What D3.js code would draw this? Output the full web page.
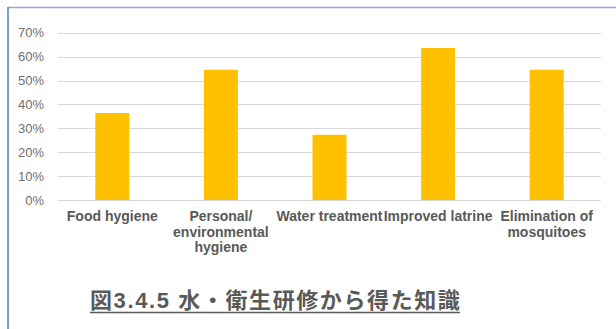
<!DOCTYPE html>
<html lang="ja">
<head>
    <meta charset="UTF-8">
    <title>水・衛生研修から得た知識</title>
    <script src="https://d3js.org/d3.v7.min.js"></script>
    <style>
        body { margin: 0; background: #fff; }
        svg { display: block; }
        .tick-label { font-family: "Liberation Sans", Arial, sans-serif; font-size: 13px; fill: #6f6f6f; }
        .cat-label { font-family: "Liberation Sans", Arial, sans-serif; font-size: 14px; font-weight: bold; fill: #595959; }
        .title { font-family: "Liberation Sans", "Noto Sans CJK JP", sans-serif; font-size: 22px; font-weight: bold; fill: #595959; letter-spacing: 1.6px; }
    </style>
</head>
<body>
<svg width="616" height="329"></svg>
<script>
    // data
    const categories = ["Food hygiene", "Personal/environmental hygiene", "Water treatment", "Improved latrine", "Elimination of mosquitoes"];
    const labelLines = [
        ["Food hygiene"],
        ["Personal/", "environmental", "hygiene"],
        ["Water treatment"],
        ["Improved latrine"],
        ["Elimination of", "mosquitoes"]
    ];
    const values = [0.364, 0.545, 0.273, 0.636, 0.545];
    const yTicks = [0, 0.1, 0.2, 0.3, 0.4, 0.5, 0.6, 0.7];
    const titleText = "図3.4.5 水・衛生研修から得た知識";

    const svg = d3.select("svg");
    const plot = {left: 58, right: 601, top: 32.7, bottom: 200};

    // frame (only top and left edges visible in the picture)
    svg.append("line").attr("x1", 8).attr("x2", 616).attr("y1", 7.5).attr("y2", 7.5)
        .attr("stroke", "#8eaadb").attr("stroke-width", 1.5);
    svg.append("line").attr("x1", 8).attr("x2", 8).attr("y1", 7).attr("y2", 329)
        .attr("stroke", "#4f7bd0").attr("stroke-width", 1.5);

    const x = d3.scaleBand().domain(categories).range([plot.left, plot.right]).padding(0);
    const y = d3.scaleLinear().domain([0, 0.7]).range([plot.bottom, plot.top]);

    // gridlines
    svg.append("g").selectAll("line").data(yTicks).join("line")
        .attr("x1", plot.left).attr("x2", plot.right)
        .attr("y1", d => Math.round(y(d)) + 0.5).attr("y2", d => Math.round(y(d)) + 0.5)
        .attr("stroke", "#d9d9d9").attr("stroke-width", 1.2);

    svg.append("g").selectAll("text").data(yTicks).join("text")
        .attr("class", "tick-label")
        .attr("x", 44)
        .attr("y", d => y(d))
        .attr("dy", "0.35em")
        .attr("text-anchor", "end")
        .text(d3.format(".0%"));

    const barW = x.bandwidth() * 0.313;
    svg.append("g").selectAll("rect").data(values).join("rect")
        .attr("x", (d, i) => x(categories[i]) + x.bandwidth() / 2 - barW / 2)
        .attr("y", d => y(d))
        .attr("width", barW)
        .attr("height", d => y(0) - y(d))
        .attr("fill", "#ffc000");

    // category labels
    const cats = svg.append("g").selectAll("text").data(labelLines).join("text")
        .attr("class", "cat-label")
        .attr("text-anchor", "middle")
        .attr("x", (d, i) => x(categories[i]) + x.bandwidth() / 2)
        .attr("y", 221);
    cats.selectAll("tspan").data(d => d).join("tspan")
        .attr("x", function() { return this.parentNode.getAttribute("x"); })
        .attr("dy", (d, i) => i === 0 ? 0 : 15.7)
        .text(d => d);

    // title
    const title = svg.append("text")
        .attr("class", "title")
        .attr("x", 90)
        .attr("y", 308)
        .text(titleText);
    const tw = title.node().getComputedTextLength();
    svg.append("line")
        .attr("x1", 90).attr("x2", Math.min(90 + tw - 1.6, 468))
        .attr("y1", 312.5).attr("y2", 312.5)
        .attr("stroke", "#595959").attr("stroke-width", 1.5);
</script>
</body>
</html>
